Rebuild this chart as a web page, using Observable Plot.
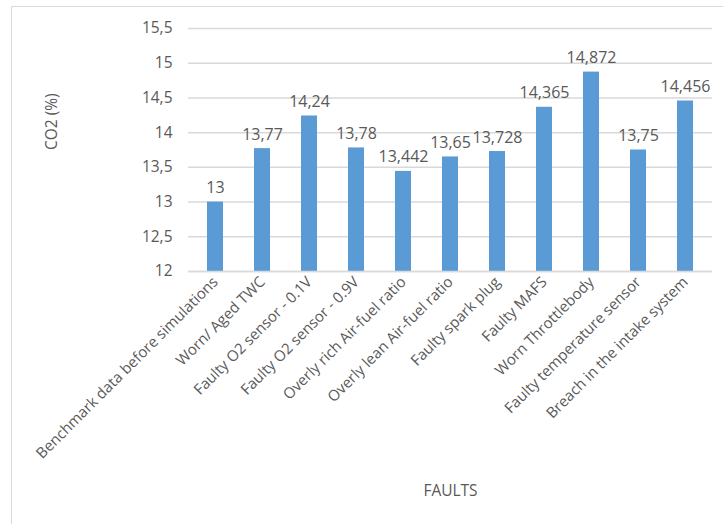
<!DOCTYPE html>
<html>
<head>
<meta charset="utf-8">
<script src="https://cdn.jsdelivr.net/npm/d3@7"></script>
<script src="https://cdn.jsdelivr.net/npm/@observablehq/plot@0.6"></script>
<style>
  body { margin: 0; background: #fff; }
  #wrap { position: relative; width: 723px; height: 524px; overflow: hidden; }
  #frame { position: absolute; left: 11px; top: 6px; width: 800px; height: 600px; border-left: 1px solid #d9d9d9; border-top: 1px solid #d9d9d9; }
  #chart { position: absolute; left: 0; top: 0; }
</style>
</head>
<body>
<div id="wrap"><div id="frame"></div><div id="chart"></div></div>
<script>
const faults = [
  "Benchmark data before simulations",
  "Worn/ Aged TWC",
  "Faulty O2 sensor - 0.1V",
  "Faulty O2 sensor - 0.9V",
  "Overly rich Air-fuel ratio",
  "Overly lean Air-fuel ratio",
  "Faulty spark plug",
  "Faulty MAFS",
  "Worn Throttlebody",
  "Faulty temperature sensor",
  "Breach in the intake system"
];
const co2 = [13, 13.77, 14.24, 13.78, 13.442, 13.65, 13.728, 14.365, 14.872, 13.75, 14.456];
const yTicks = [12, 12.5, 13, 13.5, 14, 14.5, 15, 15.5];

const data = faults.map((f, i) => ({fault: f, value: co2[i]}));
const comma = v => String(v).replace(".", ",");
const font = "'Open Sans', sans-serif";
const gray = "#595959";

const chart = Plot.plot({
  width: 723,
  height: 524,
  marginLeft: 188,
  marginRight: 11,
  marginTop: 28,
  marginBottom: 253,
  style: {fontFamily: font, fontSize: "15px", color: gray, background: "transparent"},
  x: {domain: faults, paddingInner: 0.66, paddingOuter: 0.33, label: null},
  y: {domain: [12, 15.5], label: null},
  marks: [
    Plot.gridY(yTicks, {stroke: "#d9d9d9", strokeOpacity: 1, strokeWidth: 1.5}),
    Plot.barY(data, {x: "fault", y1: 12, y2: "value", fill: "#5b9bd5"}),
    Plot.ruleY([12], {stroke: "#d9d9d9", strokeWidth: 1.5}),
    Plot.text(data, {x: "fault", y: "value", text: d => comma(d.value), lineAnchor: "bottom", dy: -9, fill: gray, fontSize: 16}),
    Plot.axisY(yTicks, {tickSize: 0, tickPadding: 16, tickFormat: comma, fill: gray, fontSize: 15.5, label: null}),
    Plot.axisX({tickSize: 0, tickPadding: 8, tickRotate: -45, fill: gray, fontSize: 15, label: null}),
    Plot.text(["CO2 (%)"], {frameAnchor: "left", dx: -136, rotate: -90, fill: gray, fontSize: 15.5}),
    Plot.text(["FAULTS"], {frameAnchor: "bottom", dy: 224, fill: gray, fontSize: 15.5})
  ]
});
document.getElementById("chart").appendChild(chart);
</script>
</body>
</html>
